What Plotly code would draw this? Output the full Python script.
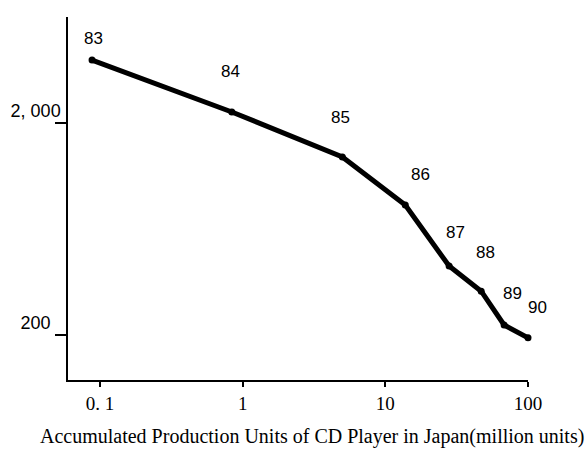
import numpy as np
import plotly.graph_objects as go

# Data
years = ["83", "84", "85", "86", "87", "88", "89", "90"]
accum_units = [0.088, 0.84, 5.0, 13.8, 28, 47, 68, 100]      # million units
price = [3960, 2255, 1383, 820, 423, 322, 223, 194]
x_tick_vals = [0.1, 1, 10, 100]
x_tick_text = ["0. 1", "1", "10", "100"]
y_tick_vals = [200, 2000]
y_tick_text = ["200\u00a0\u00a0", "2, 000"]

# label offsets (pixels) - styling only
label_dx = [1, -1, -2, 15, 6, 4, 8, 9]
label_dy = [22, 40, 39, 31, 34, 39, 32, 30]

fig = go.Figure()
fig.add_trace(go.Scatter(
    x=accum_units, y=price, mode="lines+markers",
    line=dict(color="black", width=5),
    marker=dict(color="black", size=7),
    cliponaxis=False,
    showlegend=False, hoverinfo="skip"))

for yr, xv, yv, dx, dy in zip(years, accum_units, price, label_dx, label_dy):
    fig.add_annotation(x=np.log10(xv), y=np.log10(yv), text=yr, showarrow=False,
                       xshift=dx, yshift=dy,
                       font=dict(family="Liberation Sans Narrow, Liberation Sans, Arial", size=17, color="black"))

fig.add_annotation(xref="paper", yref="paper", x=0.53, y=-0.157, yanchor="middle",
                   text="Accumulated Production Units of CD Player in Japan(million units)",
                   showarrow=False,
                   font=dict(family="Liberation Serif, Times New Roman", size=20, color="black"))

fig.update_xaxes(type="log", range=[-1.224, 2.0],
                 tickvals=x_tick_vals, ticktext=x_tick_text,
                 ticks="outside", ticklen=5, tickwidth=1.5, tickcolor="black",
                 showline=True, linecolor="black", linewidth=1.5,
                 showgrid=False, zeroline=False,
                 tickfont=dict(family="Liberation Serif, Times New Roman", size=19, color="black"))
fig.update_yaxes(type="log", range=[2.089, 3.801],
                 tickvals=y_tick_vals, ticktext=y_tick_text,
                 ticks="outside", ticklen=11, tickwidth=1.5, tickcolor="black",
                 showline=True, linecolor="black", linewidth=1.5,
                 showgrid=False, zeroline=False,
                 ticklabelshift=-12, ticklabelstandoff=-9,
                 tickfont=dict(family="Liberation Sans Narrow, Liberation Sans, Arial", size=18, color="black"))

fig.update_layout(width=588, height=449,
                  margin=dict(l=68, r=60, t=17, b=69),
                  plot_bgcolor="white", paper_bgcolor="white")

fig.write_html("out.html", config={"displayModeBar": False},
               post_script="document.body.style.margin='0';document.body.style.overflow='hidden';")
